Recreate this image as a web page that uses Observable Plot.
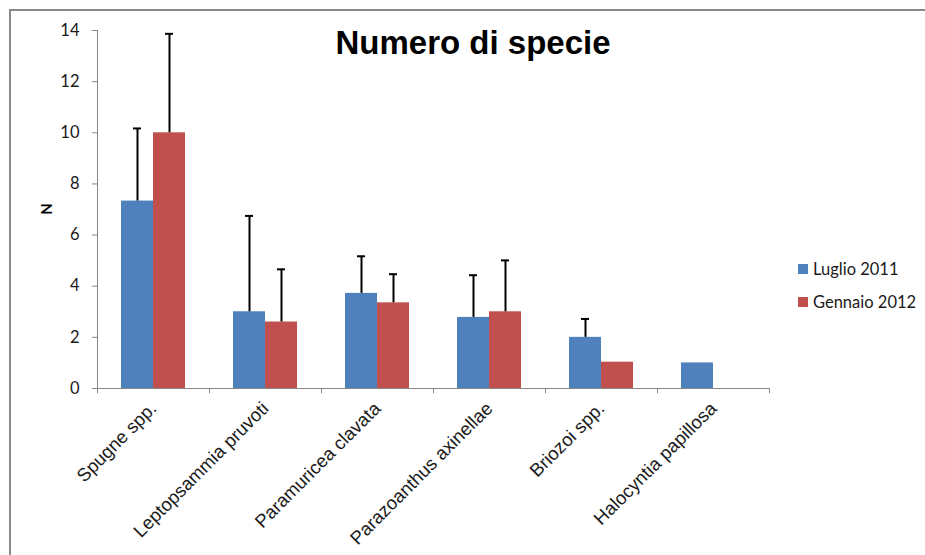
<!DOCTYPE html>
<html>
<head>
<meta charset="utf-8">
<script src="https://cdn.jsdelivr.net/npm/d3@7"></script>
<script src="https://cdn.jsdelivr.net/npm/@observablehq/plot@0.6"></script>
<style>
  html, body { margin: 0; padding: 0; background: #fff; }
  #wrap { position: relative; width: 925px; height: 555px; overflow: hidden; background: #fff; }
  #frame { position: absolute; left: 9px; top: 9px; width: 940px; height: 560px;
           border-left: 2px solid #8a8a8a; border-top: 2px solid #8a8a8a; pointer-events: none; z-index: 2; }
  #title { position: absolute; left: 0; width: 946px; top: 24px; text-align: center;
           font: bold 33px "Liberation Sans", Arial, sans-serif; color: #000; z-index: 3; }
  #ylab { position: absolute; left: 46px; top: 209px; transform: translate(-50%, -50%) rotate(-90deg);
          font: bold 15px Lato, sans-serif; color: #000; z-index: 3; }
  #legend { position: absolute; left: 798px; top: 258px; font: 16.5px Lato, sans-serif; color: #1a1a1a; z-index: 3; }
  #legend .item { display: flex; align-items: center; height: 22px; margin-bottom: 11px; }
  #legend .sw { width: 10px; height: 10px; margin-right: 5px; }
  #chart svg text { fill: #1a1a1a; }
  #chart [aria-label^="y-axis"] text { font: 16.5px Lato, sans-serif; }
  #chart [aria-label^="fx-axis"] text { font: 18.5px "Liberation Sans", Arial, sans-serif; }
</style>
</head>
<body>
<div id="wrap">
  <div id="chart"></div>
  <div id="frame"></div>
  <div id="title">Numero di specie</div>
  <div id="ylab">N</div>
  <div id="legend"></div>
</div>
<script>
const categories = ["Spugne spp.", "Leptopsammia pruvoti", "Paramuricea clavata", "Parazoanthus axinellae", "Briozoi spp.", "Halocyntia papillosa"];
const series = ["Luglio 2011", "Gennaio 2012"];
const colors = ["#4F81BD", "#C0504D"];
const luglio = [7.33, 3.0, 3.72, 2.78, 2.0, 1.0];
const luglioSd = [2.84, 3.75, 1.45, 1.65, 0.72, 0];
const gennaio = [10.0, 2.6, 3.35, 3.0, 1.03, null];
const gennaioSd = [3.87, 2.06, 1.12, 2.01, 0, null];
const yTicks = [0, 2, 4, 6, 8, 10, 12, 14];

const rows = categories.flatMap((c, i) => [
  {category: c, series: series[0], value: luglio[i], sd: luglioSd[i]},
  {category: c, series: series[1], value: gennaio[i], sd: gennaioSd[i]}
]).filter(d => d.value != null);
const errRows = rows.filter(d => d.sd > 0);

const chart = Plot.plot({
  width: 925,
  height: 555,
  marginLeft: 97,
  marginRight: 156,
  marginTop: 30,
  marginBottom: 167,
  style: {color: "#868686", background: "transparent"},
  fx: {domain: categories, padding: 0, label: null, tickSize: 0, tickRotate: -45, tickPadding: 17},
  x: {domain: series, axis: null, paddingInner: 0, paddingOuter: 0.75},
  y: {domain: [0, 14], ticks: yTicks, tickSize: 5, tickPadding: 13, line: true, label: null},
  color: {domain: series, range: colors},
  marks: [
    Plot.barY(rows, {fx: "category", x: "series", y: "value", fill: "series"}),
    Plot.ruleX(errRows, {fx: "category", x: "series", y1: "value", y2: d => d.value + d.sd, stroke: "black", strokeWidth: 2}),
    Plot.tickY(errRows, {fx: "category", x: "series", y: d => d.value + d.sd, stroke: "black", strokeWidth: 2, insetLeft: 12, insetRight: 12}),
    Plot.ruleY([0], {stroke: "#868686"}),
    Plot.ruleX([series[0]], {x: d => d, y1: 0, y2: -0.2, stroke: "#868686", dx: -40}),
    Plot.ruleX([series[0]], {x: d => d, y1: 0, y2: -0.2, stroke: "#868686", dx: 72})
  ]
});
document.getElementById("chart").appendChild(chart);

const legend = document.getElementById("legend");
series.forEach((s, i) => {
  const item = document.createElement("div");
  item.className = "item";
  const sw = document.createElement("span");
  sw.className = "sw";
  sw.style.background = colors[i];
  item.appendChild(sw);
  item.appendChild(document.createTextNode(s));
  legend.appendChild(item);
});
</script>
</body>
</html>
